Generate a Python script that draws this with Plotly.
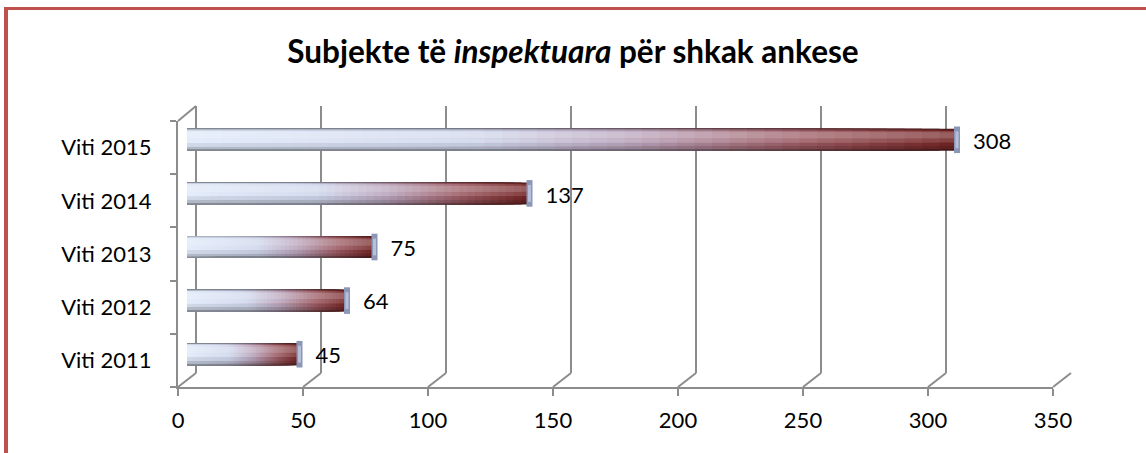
import plotly.graph_objects as go

# ---- data ----
categories = ["Viti 2011", "Viti 2012", "Viti 2013", "Viti 2014", "Viti 2015"]
values = [45, 64, 75, 137, 308]
x_ticks = [0, 50, 100, 150, 200, 250, 300, 350]
title_html = "<b>Subjekte të <i>inspektuara</i> për shkak ankese</b>"

W, H = 1146, 453
FONT = "Lato"
GRID = "#8c8c8c"


def px(x):
    return x / W


def py(y):
    return 1 - y / H


# gradient colour stops along each bar (fraction of bar length)
stops = [(0.0, (224, 234, 250)), (0.38, (208, 215, 236)), (0.58, (186, 166, 190)),
         (0.8, (156, 92, 100)), (1.0, (116, 36, 36))]


def grad(t):
    for (t0, c0), (t1, c1) in zip(stops[:-1], stops[1:]):
        if t <= t1:
            f = (t - t0) / (t1 - t0)
            return tuple(c0[i] + (c1[i] - c0[i]) * f for i in range(3))
    return stops[-1][1]


def rgb(c, k=1.0, white=0.0):
    r, g, b = [ci * k + (255 - ci * k) * white for ci in c]
    return f"rgb({int(r)},{int(g)},{int(b)})"


fig = go.Figure()

# back wall gridlines (subplot x2/y2)
fig.add_trace(go.Scatter(x=[0], y=[0], xaxis="x2", yaxis="y2", mode="markers",
                         marker=dict(opacity=0), hoverinfo="skip", showlegend=False))

# cylinder bars: nested bars from 0, longest (darkest) first -> seamless gradient;
# several bands across the thickness give the cylinder shading
K = 44
layers = [(-0.205, 0.205, 0.60, 0.0), (-0.17, 0.19, 0.80, 0.0),
          (-0.12, 0.178, 0.93, 0.0), (-0.05, 0.165, 1.0, 0.12),
          (0.03, 0.14, 1.0, 0.26)]
for lo, hi, k, wh in layers:
    for i in range(K):
        frac = (K - i) / K
        c = grad(frac - 0.5 / K)
        fig.add_trace(go.Bar(
            y=categories, x=[v * frac for v in values],
            orientation="h", xaxis="x3", yaxis="y3", offset=lo, width=hi - lo,
            marker=dict(color=rgb(c, k, wh), line=dict(width=0)),
            hoverinfo="skip", showlegend=False))

# rounded cylinder end caps
for size, lw, col in [(19, 6, "rgb(140,150,182)"), (12, 3, "rgb(182,192,218)")]:
    fig.add_trace(go.Scatter(
        y=categories, x=values, xaxis="x3", yaxis="y3", mode="markers",
        marker=dict(symbol="line-ns-open", size=size, color=col,
                    line=dict(width=lw, color=col)),
        hoverinfo="skip", showlegend=False))

# data labels (own vertical scale, slightly below the bar centres)
fig.add_trace(go.Scatter(
    y=categories, x=values, xaxis="x3", yaxis="y4", mode="markers+text",
    text=[str(v) for v in values], textposition="middle right",
    marker=dict(size=24, opacity=0),
    textfont=dict(family=FONT, size=22, color="black"),
    hoverinfo="skip", showlegend=False))

# front axes (subplot x/y)
fig.add_trace(go.Scatter(y=categories, x=[None] * len(categories), mode="markers",
                         hoverinfo="skip", showlegend=False))

axis_font = dict(family=FONT, size=22, color="black")

shapes = []
# diagonal depth connectors at the bottom
for v in x_ticks:
    xf = 178 + v * 875 / 350
    shapes.append(dict(type="line", xref="paper", yref="paper",
                       x0=px(xf), y0=py(387), x1=px(xf + 18), y1=py(373),
                       line=dict(color=GRID, width=2)))
# top-left connector
shapes.append(dict(type="line", xref="paper", yref="paper",
                   x0=px(178), y0=py(121), x1=px(196), y1=py(106),
                   line=dict(color=GRID, width=2)))
# red page border
shapes.append(dict(type="line", xref="paper", yref="paper",
                   x0=px(4), y0=py(8.5), x1=1, y1=py(8.5),
                   line=dict(color="#c0504d", width=3)))
shapes.append(dict(type="line", xref="paper", yref="paper",
                   x0=px(6), y0=py(7), x1=px(6), y1=0,
                   line=dict(color="#c0504d", width=4)))

cat_axis = dict(type="category", categoryorder="array", categoryarray=categories,
                range=[-0.5, 4.5], automargin=False)

fig.update_layout(
    width=W, height=H,
    margin=dict(l=0, r=0, t=0, b=0, autoexpand=False),
    paper_bgcolor="white", plot_bgcolor="rgba(0,0,0,0)",
    barmode="overlay",
    title=dict(text=title_html, x=0.5, xanchor="center", y=py(52), yanchor="middle",
               font=dict(family=FONT, size=31.5, color="black")),
    xaxis=dict(domain=[px(178), px(1053)], range=[0, 350], anchor="y", automargin=False,
               tickvals=x_ticks, showgrid=False, zeroline=False,
               showline=True, linecolor=GRID, linewidth=2,
               ticks="outside", ticklen=7, tickcolor=GRID, tickwidth=2,
               tickfont=axis_font, ticklabelstandoff=6),
    yaxis=dict(domain=[py(387), py(121)], anchor="x", showgrid=False, zeroline=False,
               showline=True, linecolor=GRID, linewidth=2,
               ticks="outside", tickson="boundaries", ticklen=6, tickcolor=GRID,
               tickwidth=2, tickfont=axis_font, ticklabelstandoff=20, **cat_axis),
    xaxis2=dict(domain=[px(196), px(1071.1)], range=[0, 350.04], anchor="y2",
                automargin=False,
                tickvals=x_ticks, showgrid=True, gridcolor=GRID, gridwidth=2,
                zeroline=True, zerolinecolor=GRID, zerolinewidth=2,
                showticklabels=False, ticks=""),
    yaxis2=dict(domain=[py(373), py(106)], range=[0, 1], anchor="x2", automargin=False,
                showgrid=False, zeroline=False, showticklabels=False, ticks=""),
    xaxis3=dict(domain=[px(187), px(187 + 875)], range=[0, 350], anchor="y3",
                automargin=False, visible=False),
    yaxis3=dict(domain=[py(381), py(113)], anchor="x3", visible=False, **cat_axis),
    yaxis4=dict(domain=[py(384), py(117)], anchor="x3", visible=False, **cat_axis),
    shapes=shapes,
    showlegend=False,
)

fig.write_html("out.html", config={"displayModeBar": False},
               post_script="document.body.style.margin='0';"
                           "document.body.style.overflow='hidden';")
